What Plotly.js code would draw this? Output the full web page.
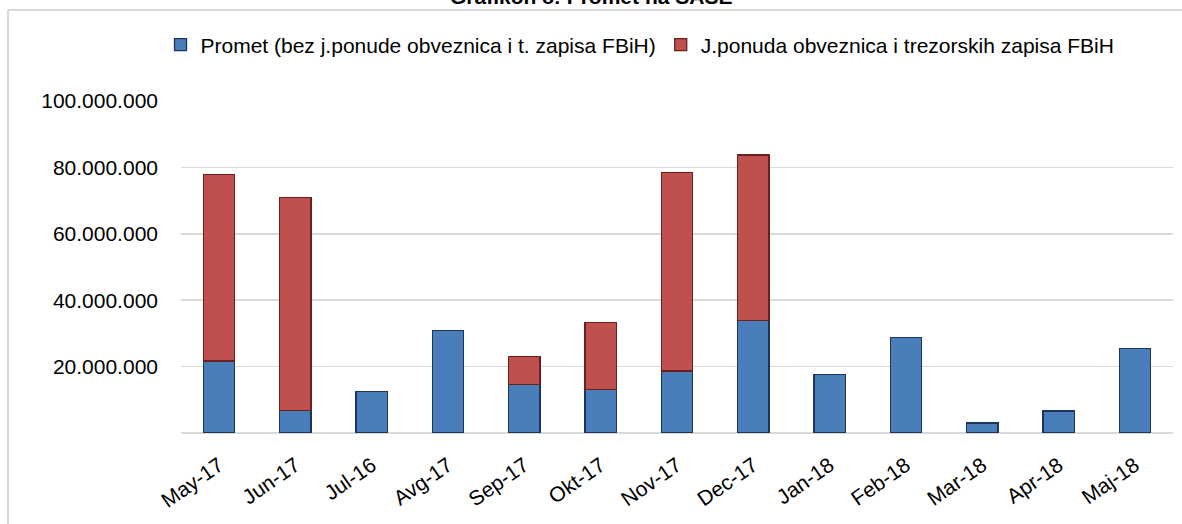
<!DOCTYPE html>
<html><head><meta charset="utf-8">
<script src="https://cdn.plot.ly/plotly-3.0.1.min.js"></script>
<style>html,body{margin:0;padding:0;background:#fff}#chart{width:1182px;height:524px}</style>
</head><body><div id="chart"></div>
<script>
const categories = ["May-17","Jun-17","Jul-16","Avg-17","Sep-17","Okt-17","Nov-17","Dec-17","Jan-18","Feb-18","Mar-18","Apr-18","Maj-18"];
const prometBez = [21700000, 6700000, 12600000, 30900000, 14600000, 13200000, 18700000, 33900000, 17700000, 28800000, 3000000, 6600000, 25500000];
const jPonuda = [56200000, 64200000, null, null, 8500000, 20100000, 59700000, 49800000, null, null, null, null, null];
const seriesNames = ["Promet (bez j.ponude obveznica i t. zapisa FBiH)", "J.ponuda obveznica i trezorskih zapisa FBiH"];
const yTicks = [20000000, 40000000, 60000000, 80000000, 100000000];
const chartTitle = "Grafikon 8: Promet na SASE";

const font = "Liberation Sans, Arial, sans-serif";
const fs = 21;
const data = [
  {type:"bar", name:seriesNames[0], x:categories, y:prometBez, width:0.41,
   marker:{color:"#4a7ebb", line:{color:"#1f3556", width:1.3}}},
  {type:"bar", name:seriesNames[1], x:categories, y:jPonuda, width:0.41,
   marker:{color:"#c0504d", line:{color:"#6a201e", width:1.3}}}
];
const pw = 992, ph = 332;
const layout = {
  width:1182, height:524, barmode:"stack",
  separators:",.",
  margin:{l:181, r:9, t:101, b:91},
  paper_bgcolor:"#fff", plot_bgcolor:"#fff",
  font:{family:font, size:fs, color:"#000"},
  showlegend:true,
  legend:{orientation:"h", x:(640-181)/pw, xanchor:"center", y:(433-45)/ph, yanchor:"middle",
          font:{family:font, size:fs, color:"#000"}, traceorder:"normal", itemwidth:30},
  xaxis:{tickangle:-35, showgrid:false, showline:false, ticks:"outside", ticklen:11, tickcolor:"rgba(0,0,0,0)",
         tickfont:{family:font, size:fs, color:"#000"}},
  yaxis:{range:[0,100000000], tickvals:yTicks, tickformat:",d", showgrid:true, gridcolor:"#d9d9d9", gridwidth:1.5,
         zeroline:true, zerolinecolor:"#d9d9d9", zerolinewidth:1.5, ticks:"", ticklen:0, ticklabelstandoff:22,
         tickfont:{family:font, size:fs, color:"#000"}},
  annotations:[
    {text:"<b>"+chartTitle+"</b>", xref:"paper", yref:"paper", x:(591-181)/pw, xanchor:"center",
     y:(433-10)/ph, yanchor:"bottom", showarrow:false, font:{family:font, size:fs, color:"#000"}}
  ],
  shapes:[
    {type:"line", xref:"paper", yref:"paper", x0:(8-181)/pw, x1:(8-181)/pw, y0:(433-10)/ph, y1:(433-530)/ph, line:{color:"#d9d9d9", width:2}},
    {type:"line", xref:"paper", yref:"paper", x0:(8-181)/pw, x1:(1190-181)/pw, y0:(433-10)/ph, y1:(433-10)/ph, line:{color:"#d9d9d9", width:2}}
  ]
};
Plotly.newPlot("chart", data, layout, {displayModeBar:false, staticPlot:true});
</script></body></html>
